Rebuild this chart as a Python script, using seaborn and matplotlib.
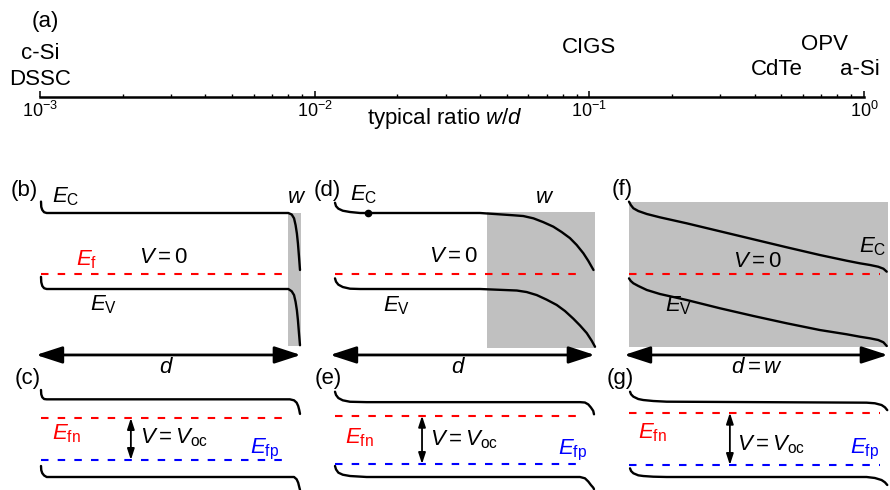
import matplotlib
matplotlib.use("Agg")
import matplotlib.pyplot as plt
import seaborn as sns

# ---------------- data ----------------
# (a) typical ratio w/d of depletion width to absorber thickness
TECH = ["c-Si", "DSSC", "CIGS", "CdTe", "OPV", "a-Si"]
TECH_RATIO = [1e-3, 1e-3, 1e-1, 0.48, 0.72, 0.97]

# band edges (energy units, x = fraction of absorber thickness d)
# (b) thick absorber, narrow depletion region
BAND_B_X = [0, 0.001, 0.005, 0.012, 0.022, 0.955, 0.968, 0.977, 0.983,
            0.988, 0.992, 0.996, 1.0]
EC_B = [1.15, 1.08, 1.04, 1.01, 1.0, 1.0, 0.98, 0.93, 0.84, 0.73, 0.60, 0.43, 0.25]
EV_B = [0.16, 0.09, 0.04, 0.01, 0.0, 0.0, -0.03, -0.08, -0.17, -0.28, -0.41, -0.58, -0.74]
# (d) intermediate
EC_D_X = [0, 0.004, 0.013, 0.03, 0.058, 0.097, 0.129, 0.56, 0.689, 0.727,
          0.766, 0.804, 0.843, 0.875, 0.907, 0.933, 0.959, 0.978, 0.998]
EC_D = [1.135, 1.09, 1.057, 1.03, 1.013, 1.0, 1.0, 1.0, 0.97, 0.96, 0.93,
        0.88, 0.82, 0.75, 0.67, 0.58, 0.47, 0.37, 0.25]
EV_D_X = [0, 0.004, 0.013, 0.03, 0.058, 0.097, 0.129, 0.56, 0.702, 0.74,
          0.779, 0.817, 0.856, 0.888, 0.920, 0.946, 0.972, 0.991, 1.004]
EV_D = [0.14, 0.096, 0.057, 0.026, 0.004, 0.0, 0.0, 0.0, -0.02, -0.04, -0.08,
        -0.14, -0.21, -0.29, -0.39, -0.48, -0.58, -0.68, -0.76]
# (f) fully depleted
BAND_F_X = [0, 0.007, 0.017, 0.036, 0.069, 0.12, 0.224, 0.353, 0.482, 0.611,
            0.740, 0.844, 0.895, 0.934, 0.966, 0.986, 0.999]
EC_F = [1.149, 1.105, 1.062, 1.026, 0.987, 0.943, 0.864, 0.759, 0.654, 0.549,
        0.447, 0.372, 0.338, 0.316, 0.293, 0.267, 0.228]
EV_F = [0.14, 0.105, 0.075, 0.04, -0.013, -0.066, -0.145, -0.254, -0.355,
        -0.451, -0.54, -0.596, -0.628, -0.649, -0.671, -0.701, -0.75]
# open circuit (c), (e), (g)
BAND_C_X = [0, 0.001, 0.005, 0.012, 0.022, 0.961, 0.977, 0.987, 0.993, 0.997, 1.0]
EC_C = [1.145, 1.088, 1.049, 1.026, 1.022, 1.022, 1.009, 0.978, 0.934, 0.882, 0.83]
EV_C = [0.145, 0.09, 0.05, 0.02, 0.0, 0.0, 0.0, -0.03, -0.075, -0.13, -0.17]
BAND_E_X = [0, 0.004, 0.013, 0.03, 0.058, 0.122, 0.946, 0.965, 0.978, 0.988,
            0.997, 1.0]
EC_E = [1.122, 1.079, 1.039, 1.009, 0.99, 0.985, 0.985, 0.98, 0.955, 0.915,
        0.87, 0.825]
EV_E = [0.145, 0.1, 0.057, 0.03, 0.013, 0.0, 0.0, -0.017, -0.06, -0.105,
        -0.14, -0.16]
BAND_G_X = [0.004, 0.008, 0.017, 0.036, 0.055, 0.094, 0.146, 0.921, 0.953,
            0.979, 0.992, 1.001]
EC_G = [1.122, 1.088, 1.057, 1.026, 1.013, 1.0, 0.991, 0.978, 0.97, 0.947,
        0.917, 0.88]
EV_G = [0.114, 0.079, 0.049, 0.022, 0.013, 0.004, 0.0, 0.0, -0.013, -0.04,
        -0.07, -0.105]

EF_EQ = 0.2                     # Fermi level at V = 0
EFN = [0.776, 0.806, 0.846]     # (c), (e), (g)
EFP = [0.224, 0.171, 0.158]

# depletion region w (x start, top, bottom)
W_X0 = [0.954, 0.587, 0.0]
W_TOP = [1.0, 1.01, 1.15]
W_BOT = [-0.75, -0.78, -0.76]

# ---------------- style ----------------
sns.set_theme(style="white")
plt.rcParams["font.family"] = ["Liberation Sans", "DejaVu Sans"]
plt.rcParams["mathtext.fontset"] = "custom"
plt.rcParams["mathtext.rm"] = "Liberation Sans"
plt.rcParams["mathtext.it"] = "Liberation Sans:italic"
plt.rcParams["mathtext.bf"] = "Liberation Sans:bold"
plt.rcParams["lines.scale_dashes"] = False
plt.rcParams["text.color"] = "black"

W, H = 890, 490
PX = 76.0   # pixels per energy unit
FS = 16
RED = "#ff0000"
BLUE = "#0000ff"
GRAY = "#c0c0c0"
DASH = (5.4, 6.6)

fig = plt.figure(figsize=(W / 100, H / 100), dpi=100)


def rect(x0, x1, y0, y1):
    return [x0 / W, 1 - y1 / H, (x1 - x0) / W, (y1 - y0) / H]


def panel(x0, x1, y0, y1, zero):
    ax = fig.add_axes(rect(x0, x1, y0, y1))
    ax.set_xlim(0, 1)
    ax.set_ylim((zero - y1) / PX, (zero - y0) / PX)
    ax.axis("off")
    return ax


def band(ax, x, y):
    sns.lineplot(x=x, y=y, ax=ax, color="black", lw=1.7, sort=False,
                 estimator=None, clip_on=False)


def hline(ax, y, color, x1=0.965):
    ax.plot([0, x1], [y, y], color=color, lw=1.5, dashes=DASH,
            clip_on=False, solid_capstyle="butt")


def dspan(ax, y, x0, x1):
    ax.annotate("", xy=(x1, y), xytext=(x0, y), annotation_clip=False,
                arrowprops=dict(arrowstyle="<|-|>,head_length=0.8,head_width=0.26",
                                mutation_scale=20, lw=2.0, color="black",
                                shrinkA=0, shrinkB=0))


def vspan(ax, x, y0, y1):
    ax.annotate("", xy=(x, y1), xytext=(x, y0), annotation_clip=False,
                arrowprops=dict(arrowstyle="<|-|>,head_length=0.55,head_width=0.18",
                                mutation_scale=12, lw=1.3, color="black",
                                shrinkA=0, shrinkB=0))


def txt(ax, x, y, s, color="black", ha="left", va="baseline"):
    ax.text(x, y, s, color=color, ha=ha, va=va, fontsize=FS)


# ---------------- (a) ratio axis ----------------
ax_a = fig.add_axes(rect(40, 864, 5, 97))
ax_a.set_xscale("log")
ax_a.set_xlim(1e-3, 1)
ax_a.set_ylim(0, 1)
ax_a.set_yticks([])
ax_a.patch.set_visible(False)
sns.despine(ax=ax_a, left=True)
ax_a.spines["bottom"].set_linewidth(1.8)
ax_a.spines["bottom"].set_color("black")
ax_a.tick_params(axis="x", which="major", bottom=True, direction="in",
                 length=4, width=1.1, pad=3, labelsize=13, colors="black")
ax_a.tick_params(axis="x", which="minor", bottom=True, direction="in",
                 length=2.5, width=1.0, colors="black")
tech_base = [0.413, 0.13, 0.478, 0.239, 0.511, 0.239]
for name, r, yb in zip(TECH, TECH_RATIO, tech_base):
    ax_a.text(r, yb, name, ha="center", va="baseline", fontsize=FS)
ax_a.text(0.006, 0.76, "(a)", ha="center", va="baseline", fontsize=FS,
          transform=ax_a.transAxes)
ax_a.text(0.492, -0.293, "typical ratio $w$/$d$", ha="center", va="baseline",
          fontsize=FS, transform=ax_a.transAxes)

# ---------------- band diagrams ----------------
cols = [(41, 300), (335, 594), (629, 887)]
tops = [panel(x0, x1, 165, 372, 289) for x0, x1 in cols]
bots = [panel(x0, x1, 372, 490, 477) for x0, x1 in cols]

top_ec = [(BAND_B_X, EC_B), (EC_D_X, EC_D), (BAND_F_X, EC_F)]
top_ev = [(BAND_B_X, EV_B), (EV_D_X, EV_D), (BAND_F_X, EV_F)]
for i, ax in enumerate(tops):
    ax.fill_between([W_X0[i], 1.004], W_BOT[i], W_TOP[i], color=GRAY,
                    lw=0, zorder=0, clip_on=False)
    band(ax, *top_ec[i])
    band(ax, *top_ev[i])
    hline(ax, EF_EQ, RED, 0.965 if i < 2 else 0.973)
    dspan(ax, -0.868, -0.019, 1.003)

bot_ec = [(BAND_C_X, EC_C), (BAND_E_X, EC_E), (BAND_G_X, EC_G)]
bot_ev = [(BAND_C_X, EV_C), (BAND_E_X, EV_E), (BAND_G_X, EV_G)]
for i, ax in enumerate(bots):
    band(ax, *bot_ec[i])
    band(ax, *bot_ev[i])
    hline(ax, EFN[i], RED, 0.965 if i < 2 else 0.973)
    hline(ax, EFP[i], BLUE, 0.965 if i < 2 else 0.973)

# (b)
ax = tops[0]
txt(ax, -0.066, 1.22, "(b)", ha="center")
txt(ax, 0.042, 1.145, "$E_\\mathrm{C}$")
txt(ax, 0.988, 1.13, "$w$", ha="center")
txt(ax, 0.135, 0.316, "$E_\\mathrm{f}$", color=RED)
txt(ax, 0.471, 0.342, "$V = 0$", ha="center")
txt(ax, 0.189, -0.276, "$E_\\mathrm{V}$")
txt(ax, 0.485, -1.1, "$d$", ha="center")
# (d)
ax = tops[1]
txt(ax, -0.03, 1.22, "(d)", ha="center")
txt(ax, 0.058, 1.17, "$E_\\mathrm{C}$")
ax.plot([0.129], [1.0], "o", color="black", ms=4.5, clip_on=False)
txt(ax, 0.81, 1.13, "$w$", ha="center")
txt(ax, 0.457, 0.355, "$V = 0$", ha="center")
txt(ax, 0.185, -0.29, "$E_\\mathrm{V}$")
txt(ax, 0.475, -1.1, "$d$", ha="center")
# (f)
ax = tops[2]
txt(ax, -0.027, 1.24, "(f)", ha="center")
txt(ax, 0.998, 0.487, "$E_\\mathrm{C}$", ha="right")
txt(ax, 0.496, 0.29, "$V = 0$", ha="center")
txt(ax, 0.14, -0.30, "$E_\\mathrm{V}$")
txt(ax, 0.496, -1.1, "$d = w$", ha="center")

# (c), (e), (g)
labels = ["(c)", "(e)", "(g)"]
lab_x = [-0.05, -0.027, -0.035]
fn_pos = [(0.042, 0.50), (0.039, 0.447), (0.035, 0.51)]
voc_pos = [(0.382, 0.447), (0.367, 0.42), (0.42, 0.355)]
fp_pos = [(0.807, 0.316), (0.861, 0.30), (0.857, 0.31)]
arrow_x = [0.347, 0.336, 0.391]
for i, ax in enumerate(bots):
    txt(ax, lab_x[i], 1.22, labels[i], ha="center")
    txt(ax, *fn_pos[i], "$E_\\mathrm{fn}$", color=RED)
    txt(ax, *voc_pos[i], "$V = V_\\mathrm{oc}$")
    txt(ax, *fp_pos[i], "$E_\\mathrm{fp}$", color=BLUE)
    vspan(ax, arrow_x[i], EFN[i], EFP[i])

fig.savefig("out.png", dpi=100)
